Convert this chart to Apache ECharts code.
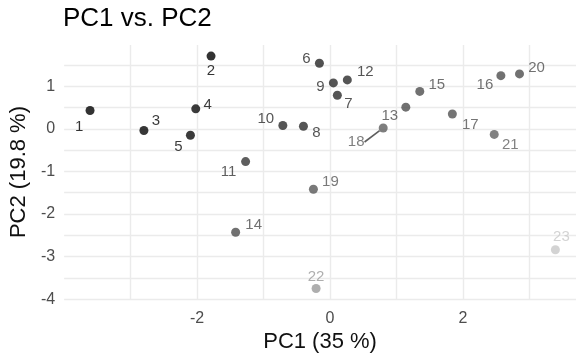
<!DOCTYPE html>
<html><head><meta charset="utf-8">
<script src="https://cdn.jsdelivr.net/npm/echarts@6/dist/echarts.min.js"></script>
<style>html,body{margin:0;padding:0;background:#fff}#c{width:576px;height:358px}</style>
</head><body><div id="c"></div>
<script>
// ---- data ----
const sampleLabels = ['1','2','3','4','5','6','7','8','9','10','11','12','13','14','15','16','17','18','19','20','21','22','23'];
const pc1 = [-3.61,-1.79,-2.80,-2.02,-2.10,-0.16,0.11,-0.40,0.05,-0.71,-1.27,0.26,1.14,-1.42,1.35,2.57,1.84,0.80,-0.25,2.85,2.47,-0.21,3.39];
const pc2 = [0.43,1.71,-0.04,0.47,-0.15,1.54,0.79,0.06,1.08,0.08,-0.77,1.15,0.51,-2.43,0.88,1.25,0.35,0.02,-1.42,1.29,-0.13,-3.75,-2.84];
const xTickLabels = ['-2','0','2'];
const yTickLabels = ['-4','-3','-2','-1','0','1'];
// ---- styles ----
const pointColors = ['#000000','#000000','#050505','#0a0a0a','#0a0a0a','#262626','#2b2b2b','#2b2b2b','#2b2b2b','#2b2b2b','#363636','#2b2b2b','#4d4d4d','#4d4d4d','#4d4d4d','#4d4d4d','#525252','#5e5e5e','#575757','#4d4d4d','#626262','#9a9a9a','#c8c8c8'];
const labelOffsets = [[-11,16],[0,15],[12,-10],[12,-4],[-12,12],[-13,-4],[11,9],[13,7],[-13,4],[-17,-7],[-17,10],[18,-8],[-16,9],[18,-7],[17,-7],[-16,9],[18,11],[-27,14],[17,-7],[17,-6],[16,10],[0,-12],[6,-13]];

const FONT = 'Liberation Sans, Arial, sans-serif';
const data = pc1.map((x, i) => ({
  value: [x, pc2[i]],
  name: sampleLabels[i],
  itemStyle: { color: pointColors[i] },
  label: { offset: labelOffsets[i], color: pointColors[i] },
  labelLine: sampleLabels[i] === '18' ? { show: true, lineStyle: { color: '#5e5e5e', width: 1.6 } } : { show: false }
}));

const grid = { color: '#ebebeb', width: 1.4 };
const chart = echarts.init(document.getElementById('c'), null, { renderer: 'canvas' });
chart.setOption({
  animation: false,
  backgroundColor: '#ffffff',
  title: {
    text: 'PC1 vs. PC2', left: 63, top: 6, padding: 0,
    textStyle: { fontFamily: FONT, fontSize: 26, fontWeight: 'normal', color: '#000000' }
  },
  grid: { left: 62, right: 0, top: 45, bottom: 57.7, containLabel: false },
  xAxis: {
    type: 'value', min: -4, max: 3.7, interval: 1,
    name: 'PC1 (35 %)', nameLocation: 'middle', nameGap: 31,
    nameTextStyle: { fontFamily: FONT, fontSize: 22, color: '#111111' },
    axisLine: { show: false }, axisTick: { show: false },
    axisLabel: {
      fontFamily: FONT, fontSize: 16, color: '#4d4d4d', margin: 11,
      showMinLabel: false, showMaxLabel: false,
      formatter: v => xTickLabels.includes(String(Math.round(v * 100) / 100)) ? String(Math.round(v)) : ''
    },
    splitLine: { show: true, showMinLine: false, showMaxLine: false, lineStyle: grid }
  },
  yAxis: {
    type: 'value', min: -4, max: 1.97, interval: 0.5,
    name: 'PC2 (19.8 %)', nameLocation: 'middle', nameGap: 30,
    nameTextStyle: { fontFamily: FONT, fontSize: 22, color: '#111111' },
    axisLine: { show: false }, axisTick: { show: false },
    axisLabel: {
      fontFamily: FONT, fontSize: 16, color: '#4d4d4d', margin: 9,
      showMaxLabel: false,
      formatter: v => yTickLabels.includes(String(Math.round(v * 100) / 100)) ? String(Math.round(v)) : ''
    },
    splitLine: { show: true, showMaxLine: false, lineStyle: grid }
  },
  series: [{
    type: 'scatter',
    symbolSize: 9,
    data: data,
    label: {
      show: true, position: 'inside', align: 'center', verticalAlign: 'middle',
      formatter: p => p.name,
      fontFamily: FONT, fontSize: 15
    },
    emphasis: { disabled: true }
  }]
});
</script></body></html>
